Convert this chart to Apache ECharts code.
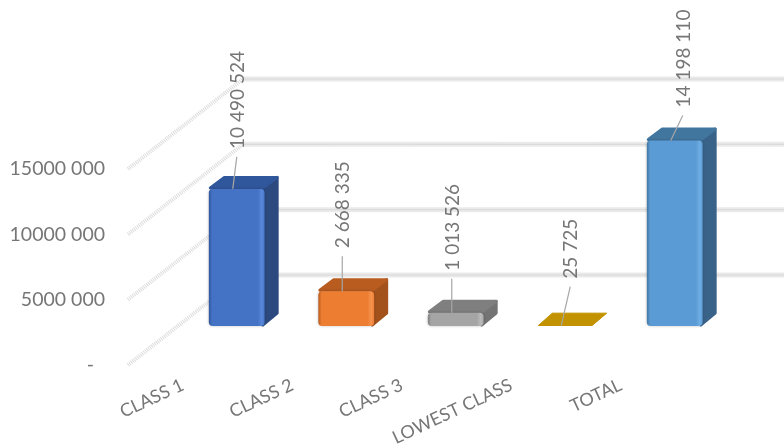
<!DOCTYPE html>
<html>
<head>
<meta charset="utf-8">
<style>html,body{margin:0;padding:0;background:#fff}#c{width:784px;height:448px;filter:blur(0.4px)}</style>
<script src="https://cdn.jsdelivr.net/npm/echarts@6/dist/echarts.min.js"></script>
</head>
<body>
<div id="c"></div>
<script>
const categories = ['CLASS 1', 'CLASS 2', 'CLASS 3', 'LOWEST CLASS', 'TOTAL'];
const values = [10490524, 2668335, 1013526, 25725, 14198110];
const valueLabels = ['10 490 524', '2 668 335', '1 013 526', '25 725', '14 198 110'];
const yTicks = [0, 5000000, 10000000, 15000000];
const yTickLabels = ['-', '5000 000', '10000 000', '15000 000'];

// Styling, per bar: front, front highlight, top, side
const palette = [
  ['#4472c4', '#5a88dc', '#30569b', '#2c4a7f'],
  ['#ed7d31', '#f7944f', '#b85c20', '#a3521c'],
  ['#a5a5a5', '#bcbcbc', '#7f7f7f', '#747474'],
  ['#bf9000', '#bf9000', '#c29200', '#bf9000'],
  ['#5b9bd5', '#70ade4', '#41769f', '#3a6389']
];
// Label leader offsets [dx, dy] from the bar's top front edge
const leaders = [[4, 32], [0, 35], [0, 34], [9, 39], [12, 25]];

const textColor = '#767676';
const font = 'Lato';
const WALL = { dx: 115, dy: -90 };
const FRONT = { dx: 54, dy: -39 };
const DEPTH = { dx: 14, dy: -13 };

const chart = echarts.init(document.getElementById('c'), null, { renderer: 'canvas' });

function renderWall(params, api) {
  const v = api.value(0);
  const y = api.coord([0, v])[1];
  const x0 = params.coordSys.x;
  const x1 = x0 + WALL.dx;
  const y1 = y + WALL.dy;
  const x2 = x0 + params.coordSys.width + WALL.dx;
  return {
    type: 'group',
    children: [
      { type: 'line', shape: { x1: x0, y1: y, x2: x1, y2: y1 },
        style: { stroke: '#dcdcdc', lineWidth: 4, lineDash: [1, 1] } },
      { type: 'line', shape: { x1: x1, y1: y1, x2: x2, y2: y1 },
        style: { stroke: '#eaeaea', lineWidth: 5 } },
      { type: 'line', shape: { x1: x1, y1: y1, x2: x2, y2: y1 },
        style: { stroke: '#d8d8d8', lineWidth: 1 } }
    ]
  };
}

function renderBar(params, api) {
  const i = params.dataIndex;
  const c = palette[i];
  const top = api.coord([i, api.value(1)]);
  const base = api.coord([i, 0]);
  const w = api.size([1, 0])[0] * 0.51;
  const cx = top[0] + FRONT.dx;
  const l = cx - w / 2, r = cx + w / 2;
  const yT = top[1] + FRONT.dy, yB = base[1] + FRONT.dy;
  const dx = DEPTH.dx, dy = DEPTH.dy;
  const flat = yB - yT < 2;
  const frontFill = {
    type: 'linear', x: 0, y: 0, x2: 1, y2: 0,
    colorStops: [
      { offset: 0, color: c[2] }, { offset: 0.06, color: c[0] },
      { offset: 0.88, color: c[0] }, { offset: 0.95, color: c[1] },
      { offset: 1, color: c[0] }
    ]
  };
  const lead = leaders[i];
  const sx = cx - 4, ex = sx + lead[0], ey = yT - lead[1];
  const children = [];
  if (!flat) {
    children.push(
      { type: 'polygon', shape: { points: [[r - 2, yB - 1], [r - 2, yT], [r + dx - 1.5, yT + dy + 1.5], [r + dx - 1.5, yB + dy]] },
        style: { fill: c[3], stroke: c[3], lineWidth: 3, lineJoin: 'round' } },
      { type: 'polygon', shape: { points: [[l + 1.5, yT - 1], [r - 1.5, yT - 1], [r + dx - 1.5, yT + dy + 1.5], [l + dx + 1.5, yT + dy + 1.5]] },
        style: { fill: c[2], stroke: c[2], lineWidth: 3, lineJoin: 'round' } },
      { type: 'rect', shape: { x: l, y: yT, width: w, height: yB - yT, r: 4 },
        style: { fill: frontFill, shadowBlur: 3, shadowColor: 'rgba(0,0,0,0.25)' } }
    );
  } else {
    children.push(
      { type: 'polygon', shape: { points: [[l + 1, yB - 0.5], [r - 1, yB - 0.5], [r + dx - 0.5, yT + dy + 0.5], [l + dx + 1, yT + dy + 0.5]] },
        style: { fill: c[2], stroke: c[2], lineWidth: 1, lineJoin: 'round' } }
    );
  }
  children.push(
    { type: 'line', shape: { x1: sx, y1: yT, x2: ex, y2: ey },
      style: { stroke: '#a6a6a6', lineWidth: 1.2 } },
    { type: 'text', x: ex + 1, y: ey - 8, rotation: Math.PI / 2,
      style: { text: valueLabels[i], fill: textColor, font: '19px ' + font,
        align: 'left', verticalAlign: 'middle' } }
  );
  return { type: 'group', children };
}

chart.setOption({
  animation: false,
  backgroundColor: '#fff',
  grid: { left: 128, top: 169, width: 547.5, height: 196, containLabel: false, outerBoundsMode: 'none' },
  xAxis: {
    type: 'category',
    data: categories,
    axisLine: { show: false },
    axisTick: { show: false },
    axisLabel: { rotate: 25, margin: 19, interval: 0, color: textColor, fontFamily: font, fontSize: 18 }
  },
  yAxis: {
    type: 'value',
    min: 0, max: 15000000, interval: 5000000,
    axisLine: { show: false },
    axisTick: { show: false },
    splitLine: { show: false },
    axisLabel: {
      margin: 23, color: textColor, fontFamily: font, fontSize: 19.5,
      formatter: (v) => v === 0 ? '{dash|' + yTickLabels[0] + '}' : yTickLabels[yTicks.indexOf(v)],
      rich: { dash: { padding: [0, 11, 0, 0], fontSize: 19.5, fontFamily: font, color: textColor } }
    }
  },
  series: [
    { type: 'custom', name: 'axes', coordinateSystem: 'cartesian2d', silent: true, clip: false, z: 1,
      encode: { y: 0 }, data: yTicks.map((v) => [v]), renderItem: renderWall },
    { type: 'custom', name: 'bars', coordinateSystem: 'cartesian2d', clip: false, z: 2,
      encode: { x: 0, y: 1 }, data: values.map((v, i) => [i, v]), renderItem: renderBar }
  ]
});
</script>
</body>
</html>
